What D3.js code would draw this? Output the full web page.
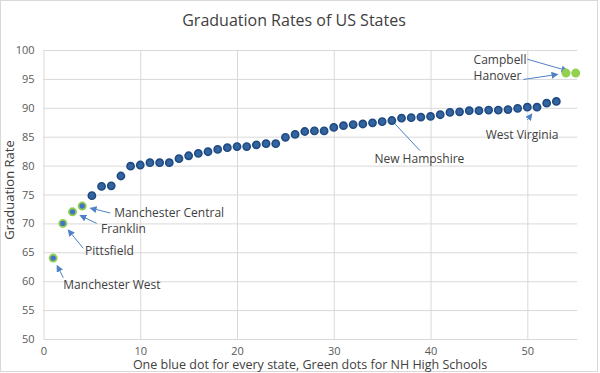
<!DOCTYPE html>
<html>
<head>
<meta charset="utf-8">
<script src="https://cdn.jsdelivr.net/npm/d3@7"></script>
<style>
  body { margin: 0; background: #fff; }
  svg { font-family: "Open Sans", sans-serif; }
</style>
</head>
<body>
<script>
// one dot per state, sorted by rate; states start at rank 5
var firstStateRank = 5;
var stateRates = [74.8, 76.4, 76.5, 78.2, 79.9, 80.1, 80.5, 80.5, 80.5, 81.2,
                  81.7, 82.1, 82.4, 82.8, 83.1, 83.3, 83.3, 83.6, 83.8, 83.8,
                  84.9, 85.4, 85.9, 86.0, 86.0, 86.6, 86.9, 87.1, 87.2, 87.4,
                  87.6, 87.8, 88.2, 88.3, 88.4, 88.5, 88.8, 89.2, 89.3, 89.5,
                  89.5, 89.6, 89.6, 89.7, 89.9, 90.1, 90.1, 90.8, 91.1];

// NH high schools (green dots)
var schoolNames = ["Manchester West", "Pittsfield", "Franklin", "Manchester Central", "Hanover", "Campbell"];
var schoolX = [1, 2, 3, 4, 54, 55];
var schoolRates = [64, 70, 72, 73, 96, 96];

var xTicks = [0, 10, 20, 30, 40, 50];
var yTicks = [50, 55, 60, 65, 70, 75, 80, 85, 90, 95, 100];

// annotations: label, text pos, arrow tail, target dot (all in data units)
var annLabels = ["Manchester West", "Pittsfield", "Franklin", "Manchester Central", "New Hampshire", "West Virginia", "Campbell", "Hanover"];
var annTextX  = [2.05, 4.3, 5.95, 7.3, 34.2, 45.7, 44.45, 44.45];
var annTextY  = [59.3, 65.3, 69.0, 71.75, 81.1, 85.3, 98.3, 95.6];
var annTailX  = [2.05, 4.1, 5.5, 6.9, 38.9, 50.0, 50.0, 49.6];
var annTailY  = [60.6, 65.7, 70.0, 71.8, 82.6, 87.9, 98.4, 94.9];
var annDotX   = [1, 2, 3, 4, 36, 51, 55, 54];
var annDotY   = [64, 70, 72, 73, 87.8, 90.1, 96, 96];
var annArrow  = [true, true, true, true, false, true, true, true];

var width = 600, height = 373;

var svg = d3.select("body").append("svg")
    .attr("width", width)
    .attr("height", height);

var defs = svg.append("defs");
defs.append("marker")
    .attr("id", "arrow")
    .attr("viewBox", "0 0 10 10")
    .attr("refX", 8).attr("refY", 5)
    .attr("markerWidth", 7).attr("markerHeight", 7)
    .attr("markerUnits", "userSpaceOnUse")
    .attr("orient", "auto")
    .append("path")
    .attr("d", "M0,0 L10,5 L0,10 z")
    .attr("fill", "#4f81c7");

// outer border
svg.append("rect")
    .attr("x", 0.5).attr("y", 0.5)
    .attr("width", 597).attr("height", 371)
    .attr("fill", "none")
    .attr("stroke", "#d9d9d9");

var x = d3.scaleLinear().domain([0, 55]).range([43.5, 575.7]);
var y = d3.scaleLinear().domain([50, 100]).range([339, 50]);

// gridlines
svg.append("g")
    .attr("transform", "translate(" + x(0) + ",0)")
    .call(d3.axisLeft(y).tickValues(yTicks).tickSize(-(x(55) - x(0) + 1.5)).tickFormat(""))
    .call(g => g.select(".domain").remove())
    .selectAll("line").attr("stroke", "#d9d9d9");

svg.append("g")
    .attr("transform", "translate(0," + y(50) + ")")
    .call(d3.axisBottom(x).tickValues(xTicks).tickSize(-(y(50) - y(100))).tickFormat(""))
    .call(g => g.select(".domain").remove())
    .selectAll("line").attr("stroke", "#d9d9d9");

// tick labels
svg.append("g")
    .attr("transform", "translate(" + (x(0) - 9) + ",0)")
    .call(d3.axisLeft(y).tickValues(yTicks).tickSize(0).tickPadding(0))
    .call(g => g.select(".domain").remove())
    .selectAll("text")
    .attr("font-family", "Open Sans, sans-serif")
    .attr("font-size", 11)
    .attr("fill", "#595959");

svg.append("g")
    .attr("transform", "translate(0," + (y(50) + 8) + ")")
    .call(d3.axisBottom(x).tickValues(xTicks).tickSize(0).tickPadding(0))
    .call(g => g.select(".domain").remove())
    .selectAll("text")
    .attr("font-family", "Open Sans, sans-serif")
    .attr("font-size", 11)
    .attr("fill", "#595959");

// titles
svg.append("text")
    .attr("x", 294).attr("y", 26)
    .attr("text-anchor", "middle")
    .attr("font-size", 16)
    .attr("fill", "#404040")
    .text("Graduation Rates of US States");

svg.append("text")
    .attr("transform", "translate(14,190) rotate(-90)")
    .attr("text-anchor", "middle")
    .attr("font-size", 13)
    .attr("fill", "#404040")
    .text("Graduation Rate");

svg.append("text")
    .attr("x", 310).attr("y", 368.5)
    .attr("text-anchor", "middle")
    .attr("font-size", 12.5)
    .attr("fill", "#404040")
    .text("One blue dot for every state, Green dots for NH High Schools");

// annotation arrows + labels
annLabels.forEach(function(label, i) {
    var x1 = x(annTailX[i]), y1 = y(annTailY[i]);
    var dx = x(annDotX[i]), dy = y(annDotY[i]);
    var len = Math.sqrt((dx - x1) * (dx - x1) + (dy - y1) * (dy - y1));
    var cut = annArrow[i] ? 9 : 0;
    var x2 = dx - (dx - x1) / len * cut, y2 = dy - (dy - y1) / len * cut;
    var line = svg.append("line")
        .attr("x1", x1).attr("y1", y1)
        .attr("x2", x2).attr("y2", y2)
        .attr("stroke", "#4f81c7")
        .attr("stroke-width", 1);
    if (annArrow[i]) line.attr("marker-end", "url(#arrow)");

    svg.append("text")
        .attr("x", x(annTextX[i]))
        .attr("y", y(annTextY[i]))
        .attr("dy", "0.35em")
        .attr("font-size", 12)
        .attr("fill", "#404040")
        .text(label);
});

// state dots
svg.append("g").selectAll("circle")
    .data(stateRates)
    .enter()
    .append("circle")
    .attr("cx", (d, i) => x(i + firstStateRank))
    .attr("cy", d => y(d))
    .attr("r", 3.6)
    .attr("fill", "#33649f")
    .attr("stroke", "#1f4a82")
    .attr("stroke-width", 1.6);

// school dots
svg.append("g").selectAll("circle")
    .data(schoolRates)
    .enter()
    .append("circle")
    .attr("cx", (d, i) => x(schoolX[i]))
    .attr("cy", d => y(d))
    .attr("r", 3.6)
    .attr("fill", (d, i) => schoolX[i] < 10 ? "#4472c4" : "#92d050")
    .attr("stroke", "#92d050")
    .attr("stroke-width", 1.8);
</script>
</body>
</html>
